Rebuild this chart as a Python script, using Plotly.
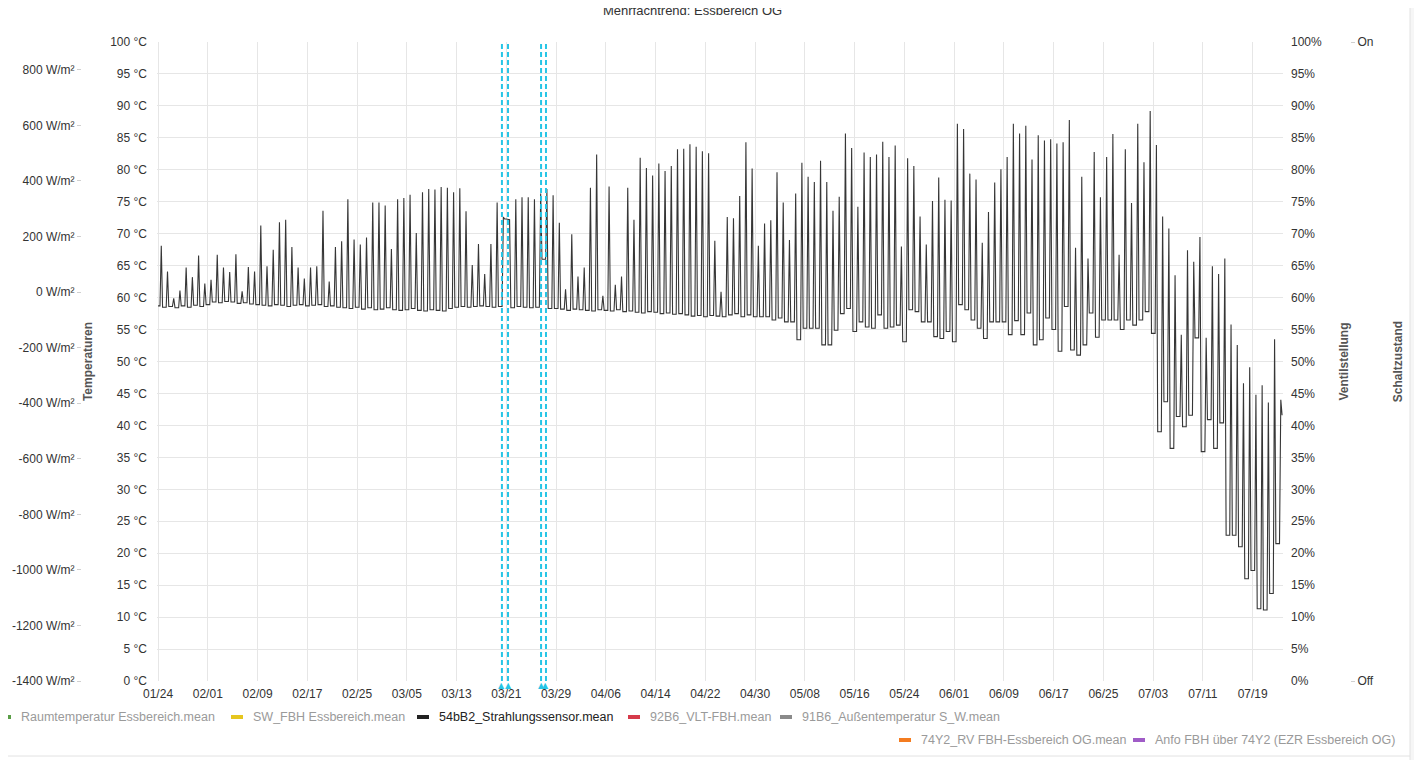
import pandas as pd
import plotly.graph_objects as go

# daily midday peak of the radiation sensor trace (read on the °C scale), 01/24 .. 07/23
daily_peak = [
    68.1, 64.1, 59.9, 61.1, 64.7, 63.2, 66.6, 62.2, 62.8, 66.7,
    64.7, 64.0, 66.8, 61.0, 64.8, 64.1, 71.3, 64.9, 67.5, 71.8,
    72.2, 67.9, 64.7, 63.0, 64.7, 64.9, 73.6, 62.5, 67.9, 68.8,
    75.4, 69.1, 68.3, 69.4, 74.9, 74.9, 74.4, 67.6, 75.4, 75.6,
    76.1, 70.1, 76.5, 77.0, 76.9, 77.3, 77.2, 76.5, 77.1, 73.5,
    65.1, 68.4, 63.7, 68.4, 74.9, 72.6, 72.2, 75.4, 75.7, 75.7,
    75.4, 76.3, 77.0, 76.0, 71.7, 61.3, 69.9, 63.3, 64.7, 77.2,
    82.4, 60.3, 77.4, 62.0, 63.3, 77.2, 72.2, 81.9, 80.3, 79.1,
    81.0, 79.8, 80.6, 83.2, 83.3, 84.0, 83.6, 82.9, 82.6, 68.9,
    60.9, 72.6, 72.4, 75.9, 84.3, 80.2, 68.1, 71.6, 72.1, 79.6,
    74.9, 69.0, 76.3, 81.1, 78.9, 78.1, 81.4, 78.1, 73.6, 75.8,
    85.7, 83.4, 74.2, 82.7, 82.0, 82.4, 84.4, 82.0, 83.8, 68.0,
    81.8, 80.6, 72.7, 68.3, 75.1, 78.8, 75.3, 75.2, 87.2, 86.4,
    79.4, 78.5, 68.6, 73.4, 78.0, 80.1, 82.0, 87.2, 85.7, 86.9,
    81.6, 85.4, 84.6, 84.8, 84.1, 84.3, 87.8, 67.8, 78.9, 66.1,
    82.8, 75.7, 82.0, 85.6, 66.7, 83.2, 74.8, 87.2, 81.2, 89.2,
    83.9, 72.7, 70.8, 63.5, 54.2, 67.4, 65.6, 69.5, 53.7, 64.9,
    63.7, 66.1, 55.8, 52.6, 46.6, 49.1, 44.8, 46.3, 43.6, 53.5,
    44.0,
]

# night level before each day (one more entry than peaks: the end of the last day)
night_low = [
    58.7, 58.5, 58.6, 58.4, 58.7, 58.5, 58.8, 58.6, 58.9, 59.3,
    59.2, 59.4, 59.3, 59.1, 59.2, 59.0, 58.9, 58.8, 58.7, 58.9,
    58.8, 58.6, 58.8, 58.9, 58.7, 58.8, 58.9, 58.6, 58.7, 58.5,
    58.4, 58.3, 58.5, 58.2, 58.4, 58.1, 58.2, 58.4, 58.1, 58.0,
    58.1, 58.3, 58.0, 57.9, 58.1, 58.0, 57.9, 58.3, 58.5, 58.6,
    58.5, 58.6, 58.7, 58.6, 58.5, 58.6, 72.3, 58.4, 58.6, 58.5,
    58.4, 58.5, 66.0, 58.3, 58.3, 58.2, 58.0, 58.2, 58.1, 58.0,
    57.9, 58.1, 58.0, 57.9, 58.1, 57.8, 57.9, 57.7, 57.6, 57.8,
    57.7, 57.5, 57.6, 57.4, 57.5, 57.3, 57.1, 57.2, 57.0, 57.2,
    57.1, 57.0, 57.3, 57.5, 57.0, 57.3, 57.0, 57.0, 57.0, 56.5,
    56.8, 56.2, 56.2, 53.4, 55.2, 55.2, 55.2, 52.6, 52.6, 54.9,
    57.5, 58.3, 54.7, 56.2, 55.4, 55.2, 57.3, 55.2, 55.4, 55.7,
    53.1, 58.1, 57.8, 56.2, 56.2, 53.9, 53.6, 54.7, 53.1, 58.9,
    58.1, 56.5, 55.2, 53.6, 56.2, 56.2, 56.2, 54.2, 56.4, 54.2,
    57.6, 52.6, 53.4, 56.8, 55.0, 51.6, 58.6, 51.8, 51.0, 52.6,
    57.6, 53.8, 56.5, 56.5, 56.5, 55.0, 56.5, 55.7, 56.5, 57.8,
    54.4, 39.0, 43.7, 36.4, 41.4, 39.8, 41.6, 53.7, 35.9, 40.9,
    36.4, 40.4, 22.8, 22.8, 21.0, 16.0, 17.3, 11.3, 11.1, 13.7,
    21.5, 41.6,
]

start_day = "2023-01-24"
x_ticks = pd.date_range("2023-01-24", "2023-07-19", freq="8D")
event_marks = ["2023-03-20 07:00", "2023-03-21 06:30", "2023-03-26 14:00", "2023-03-27 09:00"]
irradiance_ticks = list(range(-1400, 801, 200))

legend_names = [
    "Raumtemperatur Essbereich.mean", "SW_FBH Essbereich.mean", "54bB2_Strahlungssensor.mean",
    "92B6_VLT-FBH.mean", "91B6_Außentemperatur S_W.mean",
    "74Y2_RV FBH-Essbereich OG.mean", "Anfo FBH über 74Y2 (EZR Essbereich OG)",
]
legend_colors = ["#5a9e47", "#e6c61f", "#222222", "#d63a4a", "#8a8a8a", "#f47c20", "#a05cc7"]
shown_series = "54bB2_Strahlungssensor.mean"

FONT = "Liberation Sans, Arial, sans-serif"
CYAN = "#26c5e6"
GRID = "#e6e6e6"
W, H = 1422, 760
OFF = 8  # the page body margin shifts the figure by 8px


def px(xp):
    return (xp - OFF) / W


def py(yp):
    return 1 - (yp - OFF) / H


# legend item text start (page px) and row centre
legend_x = [19, 251, 437, 648, 800, 919, 1153]
legend_y = [717, 717, 717, 717, 717, 740, 740]

# day shape: flat night, narrow peak around noon
t0 = pd.Timestamp(start_day)
xs, ys = [], []
for d, peak in enumerate(daily_peak):
    day = t0 + pd.Timedelta(days=d)
    xs += [day, day + pd.Timedelta(hours=7, minutes=30), day + pd.Timedelta(hours=12, minutes=30),
           day + pd.Timedelta(hours=17, minutes=30)]
    ys += [night_low[d], night_low[d], peak, night_low[d + 1]]

fig = go.Figure()
fig.add_trace(go.Scatter(x=xs, y=ys, mode="lines", line=dict(color="#363636", width=1.1),
                         name=shown_series, showlegend=False, yaxis="y"))
# empty traces so the extra axes get drawn
for ax in ("y2", "y3", "y4"):
    fig.add_trace(go.Scatter(x=[None], y=[None], yaxis=ax, showlegend=False, hoverinfo="skip"))

# legend drawn by hand (hidden series have grey text)
for name, col, lx, ly in zip(legend_names, legend_colors, legend_x, legend_y):
    fig.add_shape(type="line", xref="paper", yref="paper", x0=px(lx - 20), x1=px(lx - 8),
                  y0=py(ly), y1=py(ly), line=dict(color=col, width=4))
    fig.add_annotation(x=px(lx), y=py(ly), xref="paper", yref="paper", xanchor="left", yanchor="middle",
                       text=name, showarrow=False,
                       font=dict(family=FONT, size=12.5, color="#222" if name == shown_series else "#9a9a9a"))

# event markers
for ts in event_marks:
    fig.add_shape(type="line", xref="x", yref="y domain", x0=ts, x1=ts, y0=0, y1=1,
                  line=dict(color=CYAN, width=2, dash="5px,3px"))
    fig.add_annotation(x=ts, xref="x", y=0, yref="y domain", yanchor="top", yshift=2, text="▲",
                       showarrow=False, font=dict(family="DejaVu Sans", size=8, color=CYAN))

# page frame
fig.add_shape(type="rect", xref="paper", yref="paper", x0=px(1410), x1=1.01, y0=-0.01, y1=1.01,
              fillcolor="#f6f6f6", line=dict(color="#e2e2e2", width=1), layer="below")
fig.add_shape(type="line", xref="paper", yref="paper", x0=0, x1=px(1410), y0=py(756), y1=py(756),
              line=dict(color="#e2e2e2", width=1), layer="below")

fig.add_annotation(x=px(692), xref="paper", y=1, yref="paper", yanchor="middle", yshift=-2,
                   text="Mehrfachtrend: Essbereich OG", showarrow=False, font=dict(size=13, color="#333"))

tick_font = dict(family=FONT, size=12, color="#333")
title_font = dict(family=FONT, size=12, color="#555")

fig.update_layout(
    width=W, height=H,
    margin=dict(l=0, r=0, t=0, b=0, autoexpand=False),
    paper_bgcolor="white", plot_bgcolor="white",
    font=dict(family=FONT, size=12, color="#333"),
    showlegend=False,
    xaxis=dict(domain=[px(157), px(1283)], type="date",
               range=["2023-01-23 20:00", "2023-07-23 21:00"],
               tickvals=x_ticks, tickformat="%m/%d", showgrid=True, gridcolor=GRID,
               zeroline=False, showline=False, tickfont=tick_font, ticklabelstandoff=4),
    yaxis=dict(domain=[py(681), py(42)], range=[0, 100], dtick=5, ticksuffix=" °C",
               showgrid=True, gridcolor=GRID, zeroline=False, tickfont=tick_font, ticklabelstandoff=9,
               title=dict(text="<b>Temperaturen</b>", font=title_font, standoff=14)),
    yaxis2=dict(overlaying="y", anchor="free", position=px(81), side="left",
                range=[-1400, 900], tickvals=irradiance_ticks,
                ticktext=[f"{v} W/m²" for v in irradiance_ticks],
                showgrid=False, zeroline=False, ticks="outside", ticklen=4, tickcolor="#d0d0d0",
                tickfont=tick_font),
    yaxis3=dict(overlaying="y", anchor="x", side="right", range=[0, 100], dtick=5, ticksuffix="%",
                showgrid=False, zeroline=False, tickfont=tick_font, ticklabelstandoff=7,
                title=dict(text="<b>Ventilstellung</b>", font=title_font, standoff=18)),
    yaxis4=dict(overlaying="y", anchor="free", position=px(1350), side="right",
                range=[0, 1], tickvals=[0, 1], ticktext=["Off", "On"],
                showgrid=False, zeroline=False, ticks="outside", ticklen=4, tickcolor="#d0d0d0",
                tickfont=tick_font,
                title=dict(text="<b>Schaltzustand</b>", font=title_font, standoff=20)),
    hovermode="x",
)

fig.write_html("out.html")
